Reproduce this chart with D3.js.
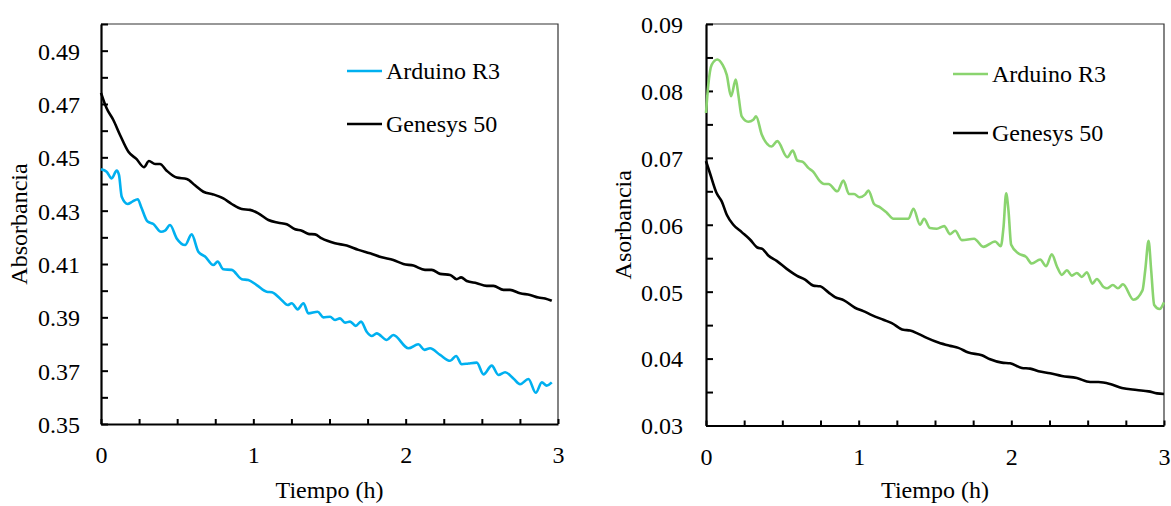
<!DOCTYPE html>
<html>
<head>
<meta charset="utf-8">
<script src="https://cdn.jsdelivr.net/npm/d3@7"></script>
<style>
  body { margin: 0; background: #fff; }
</style>
</head>
<body>
<svg id="chart" width="1171" height="506"></svg>
<script>
// series data [tiempo (h), absorbancia]
var arduinoLeft = [[0,0.4455],[0.037,0.4446],[0.070,0.4421],[0.103,0.445],[0.118,0.4434],[0.136,0.4352],[0.175,0.4325],[0.206,0.4334],[0.241,0.4343],[0.263,0.4315],[0.306,0.4259],[0.344,0.425],[0.394,0.4221],[0.420,0.4225],[0.453,0.4246],[0.497,0.4196],[0.552,0.4171],[0.595,0.4211],[0.639,0.4146],[0.683,0.4128],[0.737,0.4096],[0.766,0.4109],[0.803,0.408],[0.858,0.4078],[0.924,0.4043],[0.967,0.404],[1.022,0.4021],[1.088,0.3996],[1.121,0.3994],[1.175,0.3971],[1.226,0.3946],[1.252,0.3953],[1.291,0.393],[1.329,0.3953],[1.361,0.3915],[1.422,0.3921],[1.460,0.39],[1.504,0.3902],[1.536,0.389],[1.569,0.3896],[1.602,0.388],[1.635,0.3884],[1.672,0.3868],[1.707,0.3884],[1.744,0.3846],[1.777,0.383],[1.810,0.384],[1.876,0.3815],[1.919,0.3834],[2.018,0.3784],[2.083,0.3799],[2.123,0.3778],[2.160,0.3784],[2.226,0.3759],[2.292,0.3737],[2.331,0.3755],[2.368,0.3724],[2.412,0.3727],[2.467,0.373],[2.511,0.3686],[2.565,0.3719],[2.609,0.3684],[2.653,0.3694],[2.707,0.3671],[2.751,0.3649],[2.806,0.3669],[2.854,0.3617],[2.894,0.3656],[2.926,0.3644],[2.959,0.3656]];
var genesysLeft = [[0,0.4742],[0.037,0.4684],[0.081,0.464],[0.125,0.4584],[0.18,0.4521],[0.234,0.4493],[0.282,0.4463],[0.315,0.4486],[0.355,0.4475],[0.387,0.4475],[0.431,0.445],[0.497,0.4424],[0.563,0.4419],[0.617,0.4395],[0.672,0.4371],[0.737,0.4361],[0.803,0.4346],[0.858,0.4325],[0.924,0.4306],[0.978,0.4303],[1.033,0.429],[1.099,0.4265],[1.164,0.4255],[1.219,0.4249],[1.274,0.423],[1.318,0.4225],[1.361,0.4213],[1.405,0.4211],[1.449,0.4196],[1.536,0.4178],[1.613,0.4169],[1.690,0.4153],[1.766,0.414],[1.843,0.4125],[1.919,0.4115],[1.985,0.41],[2.051,0.4094],[2.127,0.4078],[2.171,0.4078],[2.226,0.4063],[2.292,0.4059],[2.335,0.4043],[2.364,0.405],[2.401,0.4036],[2.467,0.4028],[2.532,0.4018],[2.576,0.4018],[2.642,0.4003],[2.685,0.4003],[2.751,0.399],[2.817,0.3984],[2.872,0.3974],[2.915,0.3971],[2.959,0.3962]];
var arduinoRight = [[0,0.0767],[0.015,0.0809],[0.037,0.0839],[0.074,0.0847],[0.109,0.0839],[0.136,0.0824],[0.164,0.0792],[0.195,0.0817],[0.212,0.0794],[0.234,0.0762],[0.277,0.0754],[0.310,0.0757],[0.328,0.0762],[0.365,0.0735],[0.430,0.0717],[0.467,0.0725],[0.533,0.0701],[0.568,0.0711],[0.598,0.0696],[0.634,0.0694],[0.670,0.0685],[0.703,0.0679],[0.743,0.0666],[0.773,0.0661],[0.802,0.0661],[0.860,0.065],[0.900,0.0666],[0.937,0.0646],[0.970,0.0646],[1.005,0.0641],[1.042,0.0645],[1.064,0.0651],[1.101,0.0631],[1.140,0.0626],[1.184,0.0618],[1.228,0.0609],[1.260,0.0609],[1.326,0.0609],[1.359,0.0624],[1.402,0.06],[1.428,0.0609],[1.468,0.0595],[1.512,0.0594],[1.560,0.0598],[1.599,0.0586],[1.632,0.0591],[1.676,0.0577],[1.756,0.0579],[1.817,0.0567],[1.894,0.0575],[1.931,0.0568],[1.949,0.0597],[1.966,0.0647],[1.981,0.0622],[1.999,0.057],[2.047,0.0557],[2.097,0.0552],[2.134,0.0542],[2.189,0.0548],[2.228,0.0538],[2.265,0.0556],[2.298,0.0538],[2.331,0.0525],[2.364,0.0532],[2.396,0.0524],[2.429,0.0528],[2.462,0.0522],[2.495,0.0529],[2.531,0.0512],[2.560,0.0519],[2.604,0.0507],[2.626,0.0505],[2.665,0.051],[2.698,0.0505],[2.731,0.0511],[2.8,0.0488],[2.859,0.0502],[2.877,0.0532],[2.899,0.0576],[2.916,0.0532],[2.936,0.048],[2.971,0.0474],[3.0,0.0484]];
var genesysRight = [[0,0.0695],[0.026,0.0677],[0.07,0.0647],[0.103,0.0635],[0.136,0.0615],[0.179,0.06],[0.234,0.0589],[0.288,0.0578],[0.336,0.0566],[0.369,0.0564],[0.408,0.0554],[0.463,0.0546],[0.529,0.0534],[0.594,0.0524],[0.649,0.0518],[0.703,0.0509],[0.747,0.0508],[0.802,0.0499],[0.845,0.0492],[0.904,0.0487],[0.976,0.0476],[1.031,0.0471],[1.086,0.0465],[1.162,0.0458],[1.217,0.0453],[1.293,0.0443],[1.337,0.0442],[1.391,0.0437],[1.446,0.0431],[1.522,0.0424],[1.599,0.0419],[1.653,0.0416],[1.719,0.0409],[1.807,0.0405],[1.861,0.0399],[1.938,0.0394],[1.992,0.0393],[2.069,0.0386],[2.123,0.0385],[2.178,0.0381],[2.254,0.0378],[2.331,0.0374],[2.429,0.0371],[2.516,0.0365],[2.571,0.0365],[2.647,0.0362],[2.724,0.0356],[2.822,0.0353],[2.899,0.0351],[2.954,0.0348],[3.0,0.0347]];

// tick values and labels
var xTicks = [0, 1, 2, 3];
var leftYTicks = [0.35, 0.37, 0.39, 0.41, 0.43, 0.45, 0.47, 0.49];
var rightYTicks = [0.03, 0.04, 0.05, 0.06, 0.07, 0.08, 0.09];
var seriesNames = ["Arduino R3", "Genesys 50"];

var serif = "'Liberation Serif', 'Times New Roman', Times, serif";
var svg = d3.select("#chart");

// put axis labels in the same serif face as the rest
function styleTicks(a) {
    a.attr("font-family", serif).attr("font-size", 24);
    a.selectAll("text").style("font-family", serif).style("font-size", "24px").attr("fill", "#000");
}

function drawPanel(p) {
    var x = d3.scaleLinear().domain([0, 3]).range([p.left, p.right]);
    var y = d3.scaleLinear().domain(p.yDomain).range([p.bottom, p.top]);
    var g = svg.append("g").attr("font-family", serif);

    // thin frame on top and right
    g.append("path")
        .attr("d", "M" + p.left + "," + p.top + "H" + p.right + "V" + p.bottom)
        .attr("fill", "none").attr("stroke", "#333").attr("stroke-width", 1.2);

    // minor ticks (no labels)
    var yMinor = d3.range(p.yDomain[0], p.yDomain[1] + 1e-9, p.yMinorStep);
    g.append("g")
        .attr("transform", "translate(" + p.left + ",0)")
        .call(d3.axisRight(y).tickValues(yMinor).tickSize(7).tickFormat(""))
        .call(function (a) { a.select(".domain").remove(); a.selectAll("line").attr("stroke-width", 2); });
    g.append("g")
        .attr("transform", "translate(0," + p.bottom + ")")
        .call(d3.axisTop(x).tickValues(d3.range(0, 3.001, 0.25)).tickSize(5).tickFormat(""))
        .call(function (a) { a.select(".domain").remove(); a.selectAll("line").attr("stroke-width", 2); });

    // labelled axes
    var yAxis = g.append("g")
        .attr("transform", "translate(" + p.left + ",0)")
        .call(d3.axisLeft(y).tickValues(p.yTicks).tickSize(0).tickPadding(p.yPad).tickFormat(d3.format(".2f")))
        .call(styleTicks);
    yAxis.select(".domain").attr("stroke-width", 2.2).attr("stroke", "#000");
    yAxis.selectAll("text").attr("dy", "0.35em");

    var xAxis = g.append("g")
        .attr("transform", "translate(0," + p.bottom + ")")
        .call(d3.axisBottom(x).tickValues(xTicks).tickSize(0).tickPadding(22).tickFormat(d3.format("d")))
        .call(styleTicks);
    xAxis.select(".domain").attr("stroke-width", 2.2).attr("stroke", "#000");

    // lines
    var line = d3.line()
        .x(function (d) { return x(d[0]); })
        .y(function (d) { return y(d[1]); })
        .curve(d3.curveMonotoneX);
    g.append("path").datum(p.genesys)
        .attr("d", line).attr("fill", "none").attr("stroke", "#000").attr("stroke-width", 2.6);
    g.append("path").datum(p.arduino)
        .attr("d", line).attr("fill", "none").attr("stroke", p.color).attr("stroke-width", 2.6);

    // legend
    var colors = [p.color, "#000"];
    seriesNames.forEach(function (name, i) {
        var ly = p.legendY[i];
        g.append("line")
            .attr("x1", p.legendX).attr("x2", p.legendX + 35)
            .attr("y1", ly).attr("y2", ly)
            .attr("stroke", colors[i]).attr("stroke-width", 2.6);
        g.append("text")
            .attr("x", p.legendX + 39).attr("y", ly + 8)
            .attr("font-size", 24).text(name);
    });

    // axis titles
    g.append("text")
        .attr("x", (p.left + p.right) / 2).attr("y", 498)
        .attr("text-anchor", "middle").attr("font-size", 24)
        .text("Tiempo (h)");
    g.append("text")
        .attr("transform", "translate(" + p.titleX + "," + (p.top + p.bottom) / 2 + ") rotate(-90)")
        .attr("text-anchor", "middle").attr("font-size", 24)
        .text(p.yTitle);
}

drawPanel({
    left: 101, right: 558, top: 24, bottom: 424,
    yDomain: [0.35, 0.50], yMinorStep: 0.01, yTicks: leftYTicks, yPad: 21,
    arduino: arduinoLeft, genesys: genesysLeft, color: "#00b0f0",
    legendX: 347, legendY: [71, 124],
    titleX: 27, yTitle: "Absorbancia"
});

drawPanel({
    left: 706, right: 1164, top: 24, bottom: 425.5,
    yDomain: [0.03, 0.09], yMinorStep: 0.005, yTicks: rightYTicks, yPad: 23,
    arduino: arduinoRight, genesys: genesysRight, color: "#8ad46f",
    legendX: 953, legendY: [74, 133],
    titleX: 631, yTitle: "Asorbancia"
});
</script>
</body>
</html>
